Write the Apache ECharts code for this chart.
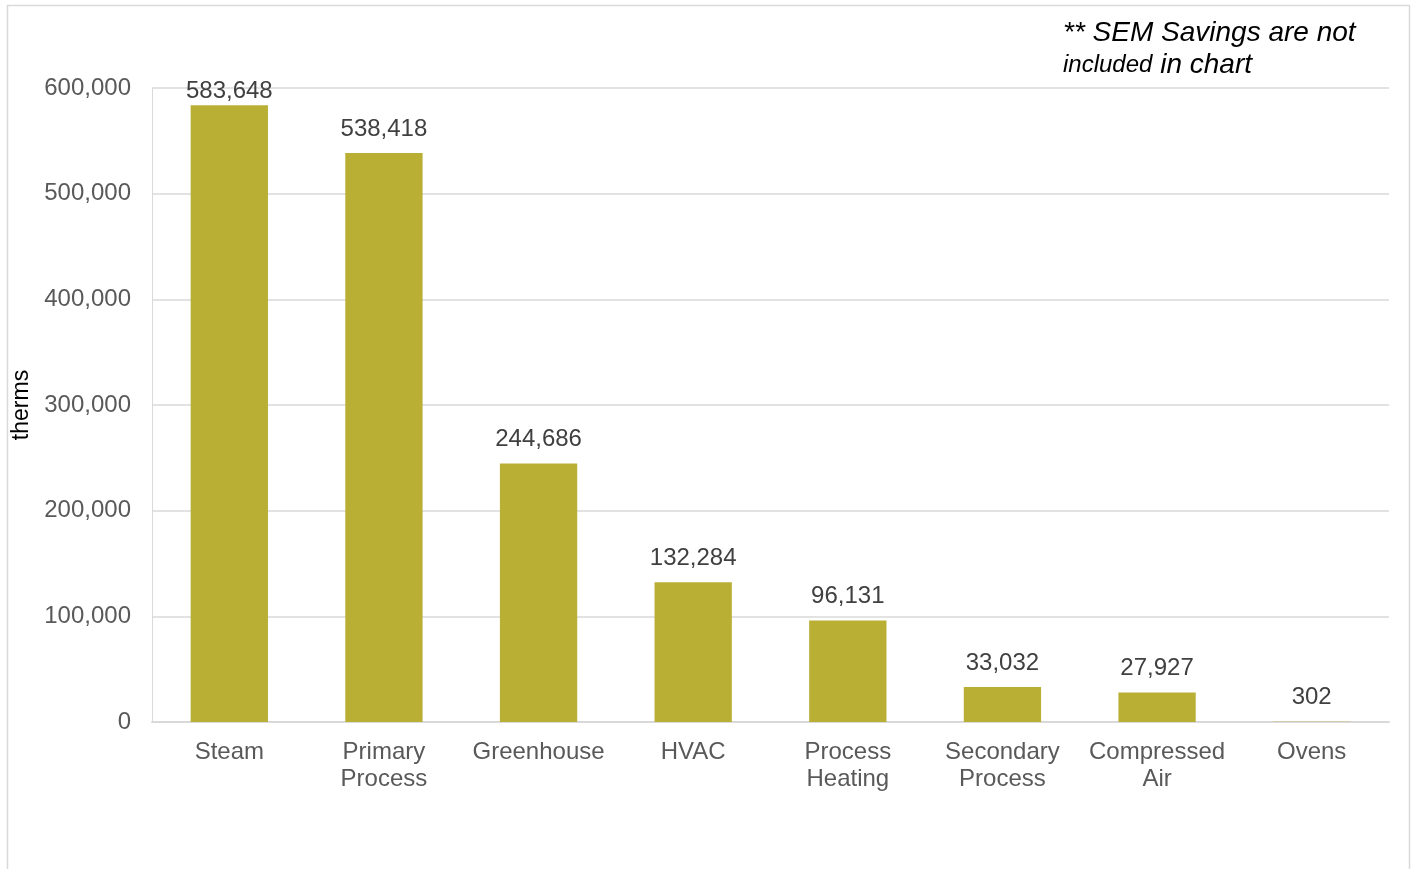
<!DOCTYPE html>
<html>
<head>
<meta charset="utf-8">
<script src="https://cdn.jsdelivr.net/npm/echarts@6/dist/echarts.min.js"></script>
<style>
  html, body { margin: 0; padding: 0; background: #fff; }
  #chart { width: 1411px; height: 869px; }
</style>
</head>
<body>
<div id="chart"></div>
<script>
// Natural gas savings by end use (therms)
const categories = ['Steam', 'Primary\nProcess', 'Greenhouse', 'HVAC', 'Process\nHeating', 'Secondary\nProcess', 'Compressed\nAir', 'Ovens'];
const savings = [583648, 538418, 244686, 132284, 96131, 33032, 27927, 302];
const yTicks = { min: 0, max: 600000, interval: 100000 };

const FONT = '"Liberation Sans", Arial, sans-serif';
const fmt = v => Number(v).toLocaleString('en-US');

// the tallest bar's label sits closer so it stays below the chart's top edge
const barData = savings.map((v, i) => i === 0 ? { value: v, label: { distance: 2 } } : v);

const chart = echarts.init(document.getElementById('chart'), null, { renderer: 'canvas' });
chart.setOption({
  animation: false,
  backgroundColor: '#ffffff',
  grid: { left: 152, right: 22, top: 88, bottom: 147, containLabel: false },
  xAxis: {
    type: 'category',
    data: categories,
    axisLine: { lineStyle: { color: '#d9d9d9', width: 2 } },
    axisTick: { show: false },
    axisLabel: {
      color: '#595959', fontFamily: FONT, fontSize: 24, lineHeight: 27,
      margin: 17, interval: 0
    }
  },
  yAxis: {
    type: 'value',
    min: yTicks.min, max: yTicks.max, interval: yTicks.interval,
    name: 'therms',
    nameLocation: 'middle',
    nameGap: 108,
    nameRotate: 90,
    nameTextStyle: { color: '#000000', fontFamily: FONT, fontSize: 23 },
    axisLine: { show: true, lineStyle: { color: '#d9d9d9', width: 1 } },
    axisTick: { show: false },
    axisLabel: { color: '#595959', fontFamily: FONT, fontSize: 24, margin: 21, formatter: fmt },
    splitLine: { lineStyle: { color: '#d9d9d9', width: 1.5 } }
  },
  series: [{
    type: 'bar',
    data: barData,
    barWidth: '50%',
    itemStyle: { color: '#b9af35' },
    label: {
      show: true, position: 'top', distance: 12,
      color: '#404040', fontFamily: FONT, fontSize: 24,
      formatter: p => fmt(p.value)
    }
  }],
  graphic: [
    {
      type: 'rect',
      shape: { x: 7.5, y: 5.5, width: 1402, height: 900 },
      style: { fill: 'none', stroke: '#d9d9d9', lineWidth: 1.5 },
      silent: true
    },
    {
      type: 'text',
      left: 1063, top: 19,
      style: {
        text: '{a|** SEM Savings are not}\n{b|included}{a| in chart}',
        fontFamily: FONT,
        fill: '#000000',
        rich: {
          a: { fontSize: 28, fontStyle: 'italic', fontFamily: FONT, fill: '#000', lineHeight: 32 },
          b: { fontSize: 24, fontStyle: 'italic', fontFamily: FONT, fill: '#000', lineHeight: 32 }
        }
      }
    }
  ]
});
</script>
</body>
</html>
